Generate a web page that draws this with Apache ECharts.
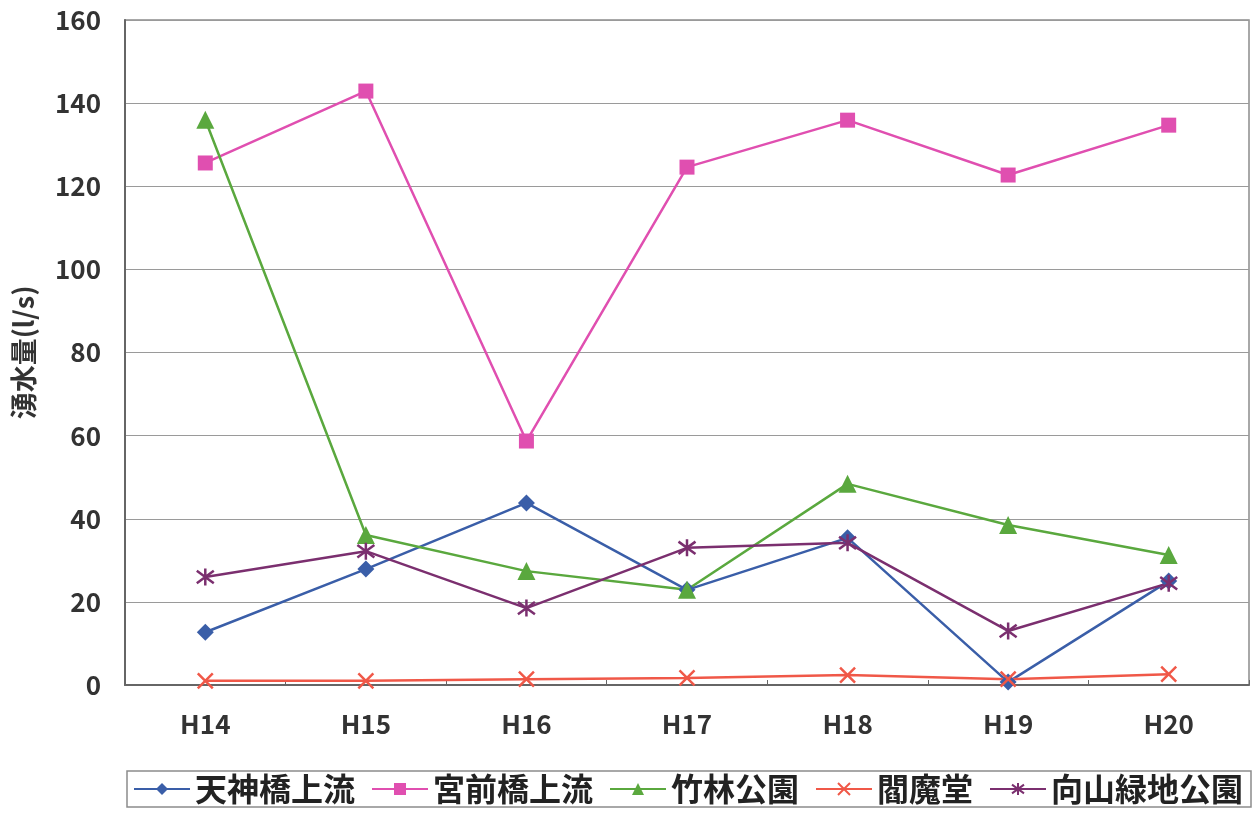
<!DOCTYPE html>
<html>
<head>
<meta charset="utf-8">
<script src="https://cdn.jsdelivr.net/npm/echarts@6/dist/echarts.min.js"></script>
<style>
  html, body { margin: 0; padding: 0; background: #fff; }
  #chart { width: 1258px; height: 815px; }
</style>
</head>
<body>
<div id="chart"></div>
<script>
// 年度
const categories = ['H14', 'H15', 'H16', 'H17', 'H18', 'H19', 'H20'];

// 各地点の湧水量 (l/s)
const tenjinbashi = [12.7, 27.9, 43.8, 22.9, 35.4, 0.7, 25.0];
const miyamaebashi = [125.6, 142.9, 58.7, 124.6, 135.9, 122.7, 134.7];
const chikurin = [136.0, 36.1, 27.4, 22.9, 48.4, 38.5, 31.3];
const enmado = [1.0, 1.0, 1.4, 1.7, 2.4, 1.4, 2.6];
const mukaiyama = [26.0, 32.2, 18.5, 33.0, 34.2, 13.0, 24.5];

const yTicks = [0, 20, 40, 60, 80, 100, 120, 140, 160];

const FONT = '"Noto Sans CJK JP", "Liberation Sans", sans-serif';

const crossPath = 'path://M0,0 L10,10 M10,0 L0,10';
const starPath = 'path://M0,1.34 L10,8.66 M0,8.66 L10,1.34 M5,0 L5,10';

function lineSeries(name, data, color, symbol, size, extra) {
  return Object.assign({
    name: name,
    type: 'line',
    data: data,
    symbol: symbol,
    symbolSize: size,
    showAllSymbol: true,
    lineStyle: { color: color, width: 2.5 },
    itemStyle: { color: color },
    emphasis: { disabled: true },
    animation: false
  }, extra || {});
}

const chart = echarts.init(document.getElementById('chart'));
chart.setOption({
  backgroundColor: '#ffffff',
  grid: {
    left: 125, right: 9, top: 20, bottom: 130,
    show: true, borderColor: '#8c8c8c', borderWidth: 1.5
  },
  xAxis: {
    type: 'category',
    data: categories,
    boundaryGap: true,
    axisLine: { lineStyle: { color: '#666', width: 2 } },
    axisTick: { show: true, inside: true, length: 5, lineStyle: { color: '#666' } },
    axisLabel: { color: '#333', fontSize: 26, fontFamily: FONT, fontWeight: 'bold', margin: 26 }
  },
  yAxis: {
    type: 'value',
    min: 0, max: yTicks[yTicks.length - 1], interval: 20,
    name: '湧水量(l/s)',
    nameLocation: 'middle',
    nameGap: 88,
    nameRotate: 90,
    nameTextStyle: { color: '#333', fontSize: 27, fontFamily: FONT, fontWeight: 'bold' },
    axisLine: { show: true, lineStyle: { color: '#666', width: 2 } },
    axisTick: { show: false },
    splitLine: { lineStyle: { color: '#9a9a9a', width: 1.2 } },
    axisLabel: { color: '#333', fontSize: 26, fontFamily: FONT, fontWeight: 'bold', margin: 24 }
  },
  legend: {
    left: 127, top: 771,
    padding: [2, 8, 2, 6],
    itemGap: 16,
    itemWidth: 56,
    itemHeight: 15,
    borderColor: '#8c8c8c',
    borderWidth: 1.5,
    textStyle: { color: '#222', fontSize: 32, fontFamily: FONT, fontWeight: 'bold' },
    data: ['天神橋上流', '宮前橋上流', '竹林公園', '閻魔堂', '向山緑地公園']
  },
  series: [
    lineSeries('天神橋上流', tenjinbashi, '#3a5ea8', 'diamond', 17),
    lineSeries('宮前橋上流', miyamaebashi, '#e04fb0', 'rect', 15),
    lineSeries('竹林公園', chikurin, '#5aa83e', 'triangle', 18),
    lineSeries('閻魔堂', enmado, '#f05848', crossPath, 15, {
      itemStyle: { color: '#f05848', borderColor: '#f05848', borderWidth: 2.5 }
    }),
    lineSeries('向山緑地公園', mukaiyama, '#7b2f6f', starPath, 17, {
      itemStyle: { color: '#7b2f6f', borderColor: '#7b2f6f', borderWidth: 2.5 }
    })
  ]
});
</script>
</body>
</html>
